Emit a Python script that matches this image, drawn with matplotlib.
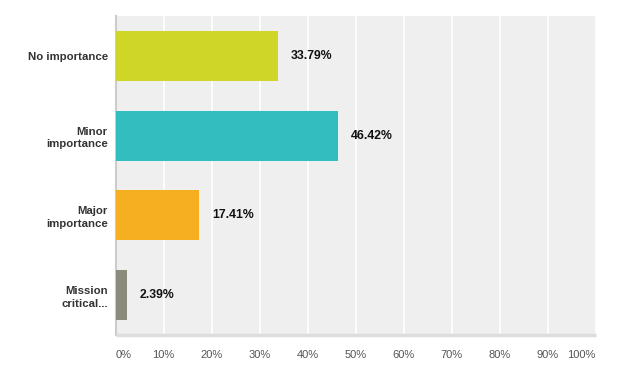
import matplotlib
matplotlib.use("Agg")
import matplotlib.pyplot as plt

categories = ["No importance", "Minor\nimportance", "Major\nimportance", "Mission\ncritical..."]
values = [33.79, 46.42, 17.41, 2.39]
colors = ["#D0D628", "#33BDBF", "#F6AF20", "#8A8B7A"]
xticks = [0, 10, 20, 30, 40, 50, 60, 70, 80, 90, 100]
xticklabels = [f"{t}%" for t in xticks]

plt.rcParams['font.family'] = ['Liberation Sans', 'DejaVu Sans']

fig = plt.figure(figsize=(6.22, 3.90), dpi=100)
W, H = 622, 390
left, right, top, bottom = 115.5, 595.5, 16, 335
ax = fig.add_axes([left / W, 1 - bottom / H, (right - left) / W, (bottom - top) / H])
ax.set_facecolor("#EFEFEF")

y = list(range(len(categories)))
ax.barh(y, values, height=0.625, color=colors, zorder=3)
ax.set_ylim(len(categories) - 0.5, -0.5)
ax.set_xlim(0, 100)

for yi, v in zip(y, values):
    ax.annotate(f"{v:.2f}%", xy=(v, yi), xytext=(13, 0), textcoords="offset pixels",
                ha="left", va="center", fontsize=8.8, fontweight="bold", color="#111111", zorder=4)

ax.set_xticks(xticks)
ax.set_xticklabels(xticklabels, fontsize=8, color="#555555")
labels = ax.get_xticklabels()
labels[0].set_ha("left")
labels[-1].set_ha("right")
ax.tick_params(axis="x", length=0, pad=11)
ax.xaxis.grid(True, color="white", linewidth=1.2, zorder=1)
ax.set_axisbelow(True)

ax.set_yticks(y)
ax.set_yticklabels(categories, fontsize=8.2, fontweight="bold", color="#333333", linespacing=1.35)
ax.tick_params(axis="y", length=0, pad=5.5)

for s in ["top", "right"]:
    ax.spines[s].set_visible(False)
ax.spines["left"].set_color("#CCCCCC")
ax.spines["left"].set_linewidth(1.5)
ax.spines["bottom"].set_color("#DDDDDD")
ax.spines["bottom"].set_linewidth(2.5)
ax.spines["bottom"].set_capstyle("butt")

fig.savefig("out.png", dpi=100)
